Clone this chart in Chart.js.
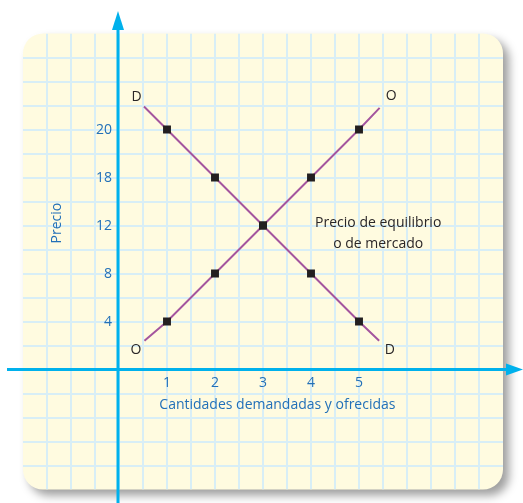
<!DOCTYPE html>
<html><head><meta charset="utf-8">
<script src="https://cdn.jsdelivr.net/npm/chart.js@4.4.1/dist/chart.umd.min.js"></script>
<style>html,body{margin:0;padding:0;background:#fff;}#wrap{width:523px;height:503px;position:relative;}canvas{display:block;}</style>
</head><body><div id="wrap"><canvas id="c" width="523" height="503" style="width:523px;height:503px"></canvas></div>
<script>
// Quantities (x axis) and price tick labels (y axis, drawn at equal steps)
const quantities = [1, 2, 3, 4, 5];
const priceTicks = [4, 8, 12, 18, 20];
const demandPrices = [20, 18, 12, 8, 4];
const supplyPrices = [4, 8, 12, 18, 20];
// Where the curves' drawn ends stop (x in quantity, y in price-step units)
const demandEnds = [{x: 0.52, y: 5.48}, {x: 5.42, y: 0.6}];
const supplyEnds = [{x: 0.53, y: 0.6}, {x: 5.43, y: 5.45}];
const xTitle = 'Cantidades demandadas y ofrecidas';
const yTitle = 'Precio';
const noteLines = ['Precio de equilibrio', 'o de mercado'];

const priceStep = p => priceTicks.indexOf(p) + 1;
function curve(prices, ends) {
  return [ends[0], ...quantities.map((q, i) => ({x: q, y: priceStep(prices[i])})), ends[1]];
}
const radii = [0, ...quantities.map(() => 5.6), 0];

const FONT = '"Open Sans", "Noto Sans", sans-serif';
const BLUE_TXT = '#2270b8';
const DARK = '#2a2627';
const AXIS = '#00b1ec';

const decor = {
  id: 'decor',
  beforeDraw(chart) {
    const {ctx, chartArea: a, scales: {x, y}} = chart;
    const L = a.left, T = a.top, W = a.right - a.left, H = a.bottom - a.top, R = 20;
    const rr = () => { ctx.beginPath(); ctx.roundRect(L, T, W, H, R); };
    ctx.save();
    ctx.shadowColor = 'rgba(0,0,0,0.38)';
    ctx.shadowBlur = 10; ctx.shadowOffsetX = 6; ctx.shadowOffsetY = 6;
    rr(); ctx.fillStyle = '#fffbe0'; ctx.fill();
    ctx.restore();
    ctx.save();
    rr(); ctx.clip();
    ctx.strokeStyle = '#d8eef6'; ctx.lineWidth = 2;
    for (let v = x.min + 0.5; v < x.max; v += 0.5) {
      const px = Math.round(x.getPixelForValue(v));
      ctx.beginPath(); ctx.moveTo(px, T); ctx.lineTo(px, a.bottom); ctx.stroke();
    }
    for (let v = y.min + 0.5; v < y.max; v += 0.5) {
      const py = Math.round(y.getPixelForValue(v));
      ctx.beginPath(); ctx.moveTo(L, py); ctx.lineTo(a.right, py); ctx.stroke();
    }
    ctx.restore();
    // axes with arrows
    const x0 = x.getPixelForValue(0) - 1, y0 = y.getPixelForValue(0);
    ctx.save();
    ctx.strokeStyle = AXIS; ctx.fillStyle = AXIS; ctx.lineWidth = 3;
    ctx.beginPath(); ctx.moveTo(x0, chart.height); ctx.lineTo(x0, 28); ctx.stroke();
    ctx.beginPath(); ctx.moveTo(x0 - 6, 30); ctx.lineTo(x0, 11); ctx.lineTo(x0 + 6, 30); ctx.closePath(); ctx.fill();
    ctx.beginPath(); ctx.moveTo(7, y0); ctx.lineTo(508, y0); ctx.stroke();
    ctx.beginPath(); ctx.moveTo(506, y0 - 6); ctx.lineTo(523, y0); ctx.lineTo(506, y0 + 6); ctx.closePath(); ctx.fill();
    ctx.restore();
  },
  afterDatasetsDraw(chart) {
    const {ctx, scales: {x, y}} = chart;
    ctx.save();
    ctx.font = '14px ' + FONT;
    ctx.fillStyle = BLUE_TXT;
    ctx.textBaseline = 'middle';
    ctx.textAlign = 'center';
    quantities.forEach(q => ctx.fillText(String(q), x.getPixelForValue(q), y.getPixelForValue(0) + 14));
    ctx.textAlign = 'right';
    priceTicks.forEach((p, i) => ctx.fillText(String(p), x.getPixelForValue(0) - 7, y.getPixelForValue(i + 1) + 1));
    ctx.textAlign = 'center';
    ctx.fillText(xTitle, x.getPixelForValue(3.3), y.getPixelForValue(0) + 36);
    ctx.save();
    ctx.translate(x.getPixelForValue(-1.3), y.getPixelForValue(3.05));
    ctx.rotate(-Math.PI / 2);
    ctx.fillText(yTitle, 0, 0);
    ctx.restore();
    // curve end labels
    ctx.fillStyle = DARK;
    ctx.font = '14px ' + FONT;
    const lbl = (t, vx, vy) => ctx.fillText(t, x.getPixelForValue(vx), y.getPixelForValue(vy));
    lbl('D', 0.365, 5.67);
    lbl('O', 5.67, 5.69);
    lbl('O', 0.355, 0.4);
    lbl('D', 5.64, 0.41);
    ctx.font = '14px ' + FONT;
    noteLines.forEach((t, i) => ctx.fillText(t, x.getPixelForValue(5.4), y.getPixelForValue(3.05 - i * 0.44)));
    ctx.restore();
  }
};

new Chart(document.getElementById('c'), {
  type: 'scatter',
  data: {
    datasets: [
      {label: 'D', data: curve(demandPrices, demandEnds), showLine: true, borderColor: '#a4559e', borderWidth: 2,
       pointStyle: 'rect', pointRadius: radii, pointBackgroundColor: '#231f20', pointBorderWidth: 0, pointHoverRadius: radii},
      {label: 'O', data: curve(supplyPrices, supplyEnds), showLine: true, borderColor: '#a4559e', borderWidth: 2,
       pointStyle: 'rect', pointRadius: radii, pointBackgroundColor: '#231f20', pointBorderWidth: 0, pointHoverRadius: radii}
    ]
  },
  options: {
    responsive: false, animation: false, devicePixelRatio: 1,
    layout: {padding: {left: 23, right: 20, top: 33.5, bottom: 13.5}},
    plugins: {legend: {display: false}, tooltip: {enabled: false}},
    events: [],
    scales: {
      x: {type: 'linear', min: -2, max: 8, display: false},
      y: {type: 'linear', min: -2.5, max: 7, display: false}
    }
  },
  plugins: [decor]
});
</script>
</body></html>
